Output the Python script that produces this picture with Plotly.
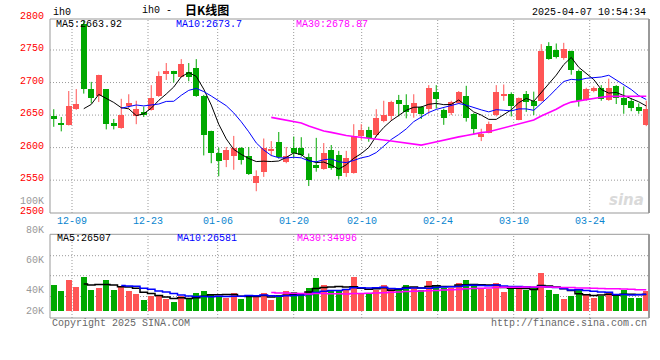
import plotly.graph_objects as go
import pandas as pd

# ---------------- data ----------------
opens = [2648, 2638, 2635, 2660, 2790, 2690, 2679, 2690, 2638, 2630,
         2664, 2649, 2654, 2658, 2680, 2713, 2717, 2709, 2716, 2723,
         2680, 2625, 2592, 2581, 2587, 2599, 2587, 2545, 2562, 2595,
         2608, 2578, 2600, 2600, 2586, 2574, 2567, 2596, 2588, 2561,
         2561, 2618, 2627, 2619, 2641, 2648, 2673, 2665, 2653, 2662,
         2659, 2686, 2658, 2653, 2668, 2679, 2652, 2617, 2623, 2650,
         2680, 2682, 2643, 2682, 2672, 2672, 2756, 2750, 2737, 2748,
         2717, 2673, 2687, 2691, 2673, 2694, 2676, 2671, 2662, 2634]
highs = [2659, 2647, 2687, 2690, 2795, 2701, 2712, 2690, 2644, 2675,
         2682, 2672, 2663, 2696, 2717, 2730, 2718, 2736, 2730, 2736,
         2681, 2626, 2600, 2601, 2618, 2601, 2601, 2565, 2614, 2610,
         2624, 2601, 2617, 2616, 2591, 2615, 2607, 2604, 2595, 2595,
         2636, 2636, 2632, 2659, 2672, 2672, 2681, 2682, 2682, 2664,
         2696, 2696, 2660, 2672, 2687, 2695, 2653, 2629, 2640, 2696,
         2697, 2685, 2677, 2687, 2686, 2759, 2762, 2760, 2761, 2749,
         2720, 2692, 2694, 2696, 2706, 2696, 2694, 2676, 2668, 2672]
lows = [2632, 2625, 2634, 2658, 2683, 2668, 2670, 2628, 2628, 2629,
        2660, 2636, 2647, 2657, 2678, 2704, 2700, 2708, 2702, 2678,
        2588, 2576, 2556, 2570, 2566, 2574, 2558, 2533, 2555, 2587,
        2583, 2576, 2584, 2586, 2541, 2563, 2566, 2566, 2551, 2555,
        2560, 2612, 2609, 2617, 2639, 2641, 2648, 2645, 2646, 2644,
        2652, 2660, 2635, 2650, 2667, 2640, 2620, 2610, 2622, 2648,
        2672, 2648, 2642, 2655, 2650, 2671, 2735, 2737, 2735, 2712,
        2663, 2672, 2685, 2672, 2672, 2667, 2652, 2656, 2652, 2633]
closes = [2644, 2634, 2664, 2667, 2690, 2677, 2711, 2636, 2633, 2650,
          2668, 2659, 2650, 2676, 2710, 2717, 2713, 2728, 2709, 2680,
          2619, 2591, 2580, 2597, 2599, 2581, 2559, 2557, 2600, 2596,
          2585, 2587, 2591, 2588, 2551, 2568, 2591, 2568, 2557, 2584,
          2618, 2627, 2615, 2645, 2650, 2670, 2667, 2655, 2668, 2652,
          2691, 2674, 2645, 2670, 2686, 2645, 2628, 2621, 2637, 2686,
          2682, 2664, 2676, 2670, 2664, 2748, 2736, 2739, 2751, 2719,
          2672, 2690, 2691, 2675, 2691, 2677, 2666, 2661, 2657, 2659]
volumes = [42100, 32400, 50200, 38900, 55100, 34000, 37300, 50200, 34000, 40500,
           32400, 27500, 17800, 24300, 24300, 19400, 14600, 24300, 19400, 29200,
           32400, 25900, 24300, 21100, 29200, 19400, 24300, 22700, 29200, 17800,
           25900, 32400, 30800, 27500, 37300, 53500, 42100, 34000, 31300, 34000,
           55100, 29200, 27500, 34000, 42100, 35600, 37300, 42100, 37300, 34000,
           48600, 42100, 37300, 37300, 45400, 50200, 43700, 35600, 35600, 45400,
           30800, 37300, 35600, 34000, 37300, 61600, 34000, 27500, 19400, 24300,
           34000, 25900, 21100, 24300, 30800, 25900, 34000, 21100, 21100, 32400]

date_labels = ["12-09", "12-23", "01-06", "01-20", "02-10", "02-24", "03-10", "03-24"]
price_labels = ["2800", "2750", "2700", "2650", "2600", "2550", "2500"]
price_label_vals = [2800, 2750, 2700, 2650, 2600, 2550, 2500]
vol_labels = ["100K", "80K", "60K", "40K", "20K"]

title_code = "ih0"
title_text = "日K线图"
timestamp = "2025-04-07 10:54:34"
price_ma_text = ["MA5:2663.92", "MA10:2673.7", "MA30:2678.87"]
vol_ma_text = ["MA5:26507", "MA10:26581", "MA30:34996"]

# ---------------- layout constants ----------------
W, H = 660, 360
ML, MR, MT, MB = 50, 11, 19, 42
PW = W - ML - MR
PH = H - MT - MB
SLOT = 7.5                      # px per candle
MAIN_BOTTOM_PX = 213
VOL_TOP_PX = 234.3
VOL_ZERO_PX = 311
VOL_K_PER_PX = 1620.0
grid_px = [72, 148, 217.7, 293.7, 361.7, 437.7, 513.7, 589.7]
vol_label_px = [201, 230.7, 260, 290.7, 311]
vol_grid_px = [255.7, 275.7, 296.5]

RED = "#FF5555"
GREEN = "#00A800"
MONO = "Liberation Mono, DejaVu Sans Mono, monospace"
CJK = "Noto Sans CJK SC"


def PX(x):
    return (x - ML) / PW


def PY(y):
    return (H - MB - y) / PH


def xdata(px):
    return -0.5 + (px - ML) / SLOT


n = len(closes)
idx = list(range(n))
up = [c >= o for o, c in zip(opens, closes)]

ma5 = pd.Series(closes).rolling(5).mean()
ma10 = pd.Series(closes).rolling(10).mean()
ma30 = pd.Series(closes).rolling(30).mean()
vma5 = pd.Series(volumes).rolling(5).mean()
vma10 = pd.Series(volumes).rolling(10).mean()
vma30 = pd.Series(volumes).rolling(30).mean()

main_dom = [PY(MAIN_BOTTOM_PX), 1.0]
vol_dom = [0.0, PY(VOL_TOP_PX)]
p_lo = 2500 - (MAIN_BOTTOM_PX - 212.7) / 0.6508
p_hi = 2500 + (212.7 - MT) / 0.6508
v_lo = -(H - MB - VOL_ZERO_PX) * VOL_K_PER_PX
v_hi = (VOL_ZERO_PX - VOL_TOP_PX) * VOL_K_PER_PX
x_range = [-0.5, -0.5 + PW / SLOT]

fig = go.Figure()

# wicks
for flag, col in ((True, RED), (False, GREEN)):
    xs, ys = [], []
    for i in idx:
        if up[i] == flag:
            xs += [i, i, None]
            ys += [lows[i], highs[i], None]
    fig.add_trace(go.Scatter(x=xs, y=ys, mode="lines", line=dict(color=col, width=1),
                             hoverinfo="skip", showlegend=False, xaxis="x", yaxis="y"))

# bodies
for flag, col in ((True, RED), (False, GREEN)):
    xs = [i for i in idx if up[i] == flag]
    base = [min(opens[i], closes[i]) for i in xs]
    hgt = [max(abs(closes[i] - opens[i]), 1.5) for i in xs]
    fig.add_trace(go.Bar(x=xs, y=hgt, base=base, width=0.8, marker=dict(color=col, line=dict(width=0)),
                         showlegend=False, hoverinfo="skip", xaxis="x", yaxis="y"))

# price MAs
fig.add_trace(go.Scatter(x=idx, y=ma5, mode="lines", line=dict(color="black", width=1),
                         showlegend=False, xaxis="x", yaxis="y"))
fig.add_trace(go.Scatter(x=idx, y=ma10, mode="lines", line=dict(color="#0000FF", width=1),
                         showlegend=False, xaxis="x", yaxis="y"))
fig.add_trace(go.Scatter(x=idx, y=ma30, mode="lines", line=dict(color="#FF00FF", width=1.6),
                         showlegend=False, xaxis="x", yaxis="y"))

# volume bars
fig.add_trace(go.Bar(x=idx, y=volumes, width=0.76,
                     marker=dict(color=[RED if u else GREEN for u in up], line=dict(width=0)),
                     showlegend=False, hoverinfo="skip", xaxis="x2", yaxis="y2"))
for s, col in ((vma5, "black"), (vma10, "#0000FF"), (vma30, "#FF00FF")):
    fig.add_trace(go.Scatter(x=idx, y=s, mode="lines", line=dict(color=col, width=1.5, shape="hvh"),
                             showlegend=False, xaxis="x2", yaxis="y2"))

shapes = []
dash = "1px,2px"
gcol = "#999999"
for gp in grid_px:
    xd = xdata(gp)
    shapes.append(dict(type="line", xref="x", yref="paper", x0=xd, x1=xd, y0=main_dom[0], y1=main_dom[1],
                       line=dict(color=gcol, width=1, dash=dash), layer="below"))
    shapes.append(dict(type="line", xref="x", yref="paper", x0=xd, x1=xd, y0=vol_dom[0], y1=vol_dom[1],
                       line=dict(color=gcol, width=1, dash=dash), layer="below"))
for pv in price_label_vals[1:-1]:
    shapes.append(dict(type="line", xref="paper", yref="y", x0=0, x1=1, y0=pv, y1=pv,
                       line=dict(color=gcol, width=1, dash=dash), layer="below"))
for vp in vol_grid_px:
    shapes.append(dict(type="line", xref="paper", yref="paper", x0=0, x1=1, y0=PY(vp), y1=PY(vp),
                       line=dict(color=gcol, width=1, dash=dash), layer="below"))
# boxes
for dom in (main_dom, vol_dom):
    shapes.append(dict(type="rect", xref="paper", yref="paper", x0=0, x1=1, y0=dom[0], y1=dom[1],
                       line=dict(color="#999999", width=1)))
    shapes.append(dict(type="line", xref="paper", yref="paper", x0=1, x1=1, y0=dom[0], y1=dom[1],
                       line=dict(color="#999999", width=2)))

ann = []


def text(x, y, s, color="black", size=10, anchor="left", font=MONO, yanchor="middle"):
    ann.append(dict(x=PX(x), y=PY(y), xref="paper", yref="paper", text=s, showarrow=False,
                    xanchor=anchor, yanchor=yanchor, font=dict(family=font, size=size, color=color)))


# price axis labels (red)
for lab, pv in zip(price_labels, price_label_vals):
    ypx = 212.7 - (pv - 2500) * 0.6508 - 1.3
    text(46, ypx, lab, color="#FF0000", anchor="right")
# volume axis labels (gray)
for lab, vp in zip(vol_labels, vol_label_px):
    text(46, vp, lab, color="#999999", anchor="right")
# date labels
for lab, gp in zip(date_labels, grid_px):
    text(gp, 221.7, lab, color="#0A86CF", anchor="center")

# header
text(51, 12.3, title_code)
text(140, 10, title_code + " -")
text(183, 9.3, "<b>" + title_text + "</b>", size=12, font=CJK)
text(648, 12.3, timestamp, anchor="right")

# MA legends
for s, x, col in zip(price_ma_text, (54.3, 174.3, 294.3), ("black", "#0000FF", "#FF00FF")):
    text(x, 24.3, s, color=col)
for s, x, col in zip(vol_ma_text, (54.7, 175, 295), ("black", "#0000FF", "#FF00FF")):
    text(x, 238.7, s, color=col)

# footer
text(50, 323.7, "Copyright 2025 SINA.COM", color="#666666")
text(649, 323.7, "http://finance.sina.com.cn", color="#666666", anchor="right")

# watermark
ann.append(dict(x=PX(626), y=PY(200), xref="paper", yref="paper", text="<i><b>sina</b></i>", showarrow=False,
                xanchor="center", yanchor="middle", font=dict(family="DejaVu Sans", size=15, color="#DADADA")))

fig.update_layout(
    width=W, height=H,
    margin=dict(l=ML, r=MR, t=MT, b=MB, pad=0),
    paper_bgcolor="white", plot_bgcolor="white",
    barmode="overlay", bargap=0,
    showlegend=False,
    xaxis=dict(domain=[0, 1], range=x_range, anchor="y", showgrid=False, zeroline=False,
               showticklabels=False, ticks="", fixedrange=True),
    yaxis=dict(domain=main_dom, range=[p_lo, p_hi], anchor="x", showgrid=False, zeroline=False,
               showticklabels=False, ticks=""),
    xaxis2=dict(domain=[0, 1], range=x_range, anchor="y2", matches="x", showgrid=False, zeroline=False,
                showticklabels=False, ticks=""),
    yaxis2=dict(domain=vol_dom, range=[v_lo, v_hi], anchor="x2", showgrid=False, zeroline=False,
                showticklabels=False, ticks=""),
    shapes=shapes,
    annotations=ann,
)

fig.write_html("out.html", config={"displayModeBar": False},
               post_script="document.body.style.margin='0';document.body.style.overflow='hidden';")
